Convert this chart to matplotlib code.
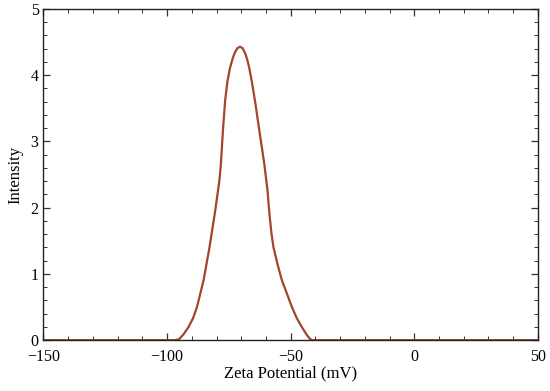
import numpy as np
import matplotlib
matplotlib.use("Agg")
import matplotlib.pyplot as plt
from matplotlib.ticker import MultipleLocator

# zeta potential distribution
zeta_mv = [-150, -97.0, -95.3, -93.5, -91.3, -89.5, -87.9, -85.2, -82.8,
    -80.5, -78.8, -78.2, -77.4, -76.5, -75.6, -74.6, -73.5, -72.5, -71.5,
    -70.5, -69.5, -68.5, -67.6, -66.7, -65.6, -64.3, -62.3, -60.7, -59.4,
    -58.6, -57.8, -57.0, -55.2, -53.6, -51.5, -49.5, -47.5, -45.5, -43.5,
    -42.2, -41.4, -40.0, 50]
intensity = [0, 0, 0.01, 0.08, 0.20, 0.33, 0.50, 0.91, 1.41,
    1.96, 2.42, 2.67, 3.17, 3.62, 3.90, 4.10, 4.25, 4.35, 4.41,
    4.43, 4.41, 4.34, 4.24, 4.10, 3.88, 3.58, 3.07, 2.67, 2.27,
    1.91, 1.62, 1.41, 1.13, 0.91, 0.70, 0.50, 0.33, 0.20, 0.08,
    0.02, 0.0, 0, 0]

plt.rcParams['font.family'] = ['Liberation Serif', 'DejaVu Serif']

fig = plt.figure(figsize=(5.5, 3.91), dpi=100)
ax = fig.add_axes([0.079, 0.130, 0.899, 0.847])

ax.plot(zeta_mv, intensity, color='#a5432b', lw=1.6)

ax.set_xlim(-150, 50)
ax.set_ylim(0, 5)
ax.xaxis.set_major_locator(MultipleLocator(50))
ax.xaxis.set_minor_locator(MultipleLocator(10))
ax.yaxis.set_major_locator(MultipleLocator(1))
ax.yaxis.set_minor_locator(MultipleLocator(0.2))
ax.tick_params(which='both', direction='in', top=True, right=True,
    labelsize=11.5, color='#333333')
ax.tick_params(which='major', length=5, width=0.9)
ax.tick_params(axis='x', pad=6.5)
ax.tick_params(which='minor', length=3, width=0.7)
for sp in ax.spines.values():
    sp.set_color('#222222')
    sp.set_linewidth(1.0)

ax.set_xlabel('Zeta Potential (mV)', fontsize=12, labelpad=0)
ax.set_ylabel('Intensity', fontsize=12, labelpad=5)

fig.savefig('out.png', dpi=100)
